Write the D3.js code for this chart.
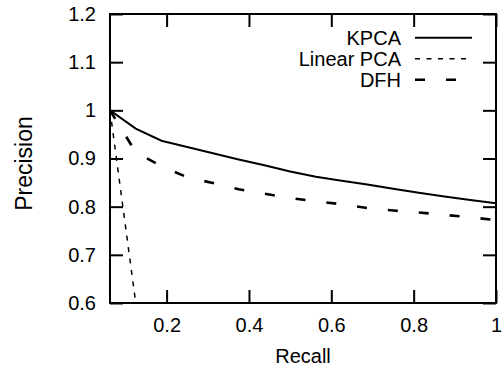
<!DOCTYPE html>
<html>
<head>
<meta charset="utf-8">
<script src="https://cdn.jsdelivr.net/npm/d3@7"></script>
<style>
  body { margin: 0; background: #fff; }
  svg { display: block; }
  text { font-family: 'Liberation Sans', Arial, Helvetica, sans-serif; fill: #000; }
</style>
</head>
<body>
<svg></svg>
<script>
// Chart data
var recall = [0.0625, 0.125, 0.1875, 0.25, 0.3125, 0.375, 0.4375, 0.5,
  0.5625, 0.625, 0.6875, 0.75, 0.8125, 0.875, 0.9375, 1.0];
var kpca = [1.0, 0.962, 0.937, 0.924, 0.911, 0.898, 0.886, 0.873,
  0.862, 0.854, 0.846, 0.837, 0.829, 0.821, 0.814, 0.807];
var dfh = [1.0, 0.913, 0.884, 0.861, 0.849, 0.836, 0.827, 0.818,
  0.811, 0.805, 0.797, 0.792, 0.788, 0.783, 0.778, 0.772];
var linearRecall = [0.0625, 0.125];
var linearPca = [1.0, 0.6];
var xTicks = [0.2, 0.4, 0.6, 0.8, 1];
var yTicks = [0.6, 0.7, 0.8, 0.9, 1, 1.1, 1.2];

var width = 502;
var height = 370;
var plotLeft = 110, plotRight = 496, plotTop = 14, plotBottom = 303;
var tickLen = 13;

var svg = d3.select('svg')
  .attr('width', width)
  .attr('height', height);

var x = d3.scaleLinear().domain([0.0625, 1]).range([plotLeft, plotRight]);
var y = d3.scaleLinear().domain([0.6, 1.2]).range([plotBottom, plotTop]);

var fmt = function (d) { return d3.format('')(d); };

// clip region for the curves
svg.append('clipPath')
  .attr('id', 'plot-clip')
  .append('rect')
    .attr('x', plotLeft)
    .attr('y', plotTop)
    .attr('width', plotRight - plotLeft)
    .attr('height', plotBottom - plotTop);

// Axes: bottom and left carry labels, top and right mirror the ticks
var xAxisB = d3.axisBottom(x).tickValues(xTicks).tickFormat(fmt)
  .tickSizeInner(-tickLen).tickSizeOuter(0).tickPadding(15);
var xAxisT = d3.axisTop(x).tickValues(xTicks).tickFormat('')
  .tickSizeInner(-tickLen).tickSizeOuter(0);
var yAxisL = d3.axisLeft(y).tickValues(yTicks).tickFormat(fmt)
  .tickSizeInner(-tickLen).tickSizeOuter(0).tickPadding(14);
var yAxisR = d3.axisRight(y).tickValues(yTicks).tickFormat('')
  .tickSizeInner(-tickLen).tickSizeOuter(0);

function styleAxis(g) {
  g.select('.domain').remove();
  g.selectAll('line').attr('stroke', '#000').attr('stroke-width', 2);
  g.selectAll('text')
    .style('font-family', "'Liberation Sans', Arial, Helvetica, sans-serif")
    .style('font-size', '20px')
    .attr('fill', '#000');
}

svg.append('g').attr('transform', 'translate(0,' + plotBottom + ')').call(xAxisB).call(styleAxis);
svg.append('g').attr('transform', 'translate(0,' + plotTop + ')').call(xAxisT).call(styleAxis);
svg.append('g').attr('transform', 'translate(' + plotLeft + ',0)').call(yAxisL).call(styleAxis);
svg.append('g').attr('transform', 'translate(' + plotRight + ',0)').call(yAxisR).call(styleAxis);

// frame
svg.append('rect')
  .attr('x', plotLeft)
  .attr('y', plotTop)
  .attr('width', plotRight - plotLeft)
  .attr('height', plotBottom - plotTop)
  .attr('fill', 'none')
  .attr('stroke', '#000')
  .attr('stroke-width', 2);

// axis titles
svg.append('text')
  .attr('x', (plotLeft + plotRight) / 2)
  .attr('y', 363)
  .attr('text-anchor', 'middle')
  .style('font-size', '20px')
  .text('Recall');

svg.append('text')
  .attr('text-anchor', 'middle')
  .attr('transform', 'translate(32,163.5)rotate(-90)')
  .style('font-size', '23px')
  .text('Precision');

// series
var series = [
  { name: 'KPCA', xs: recall, ys: kpca, dash: null, w: 2 },
  { name: 'Linear PCA', xs: linearRecall, ys: linearPca, dash: '5,6.5', w: 1.5 },
  { name: 'DFH', xs: recall, ys: dfh, dash: '10,21', w: 2.6 }
];

var line = d3.line()
  .x(function (d) { return x(d[0]); })
  .y(function (d) { return y(d[1]); });

var plot = svg.append('g').attr('clip-path', 'url(#plot-clip)');

series.forEach(function (s) {
  var pts = s.xs.map(function (v, i) { return [v, s.ys[i]]; });
  plot.append('path')
    .datum(pts)
    .attr('d', line)
    .attr('fill', 'none')
    .attr('stroke', '#000')
    .attr('stroke-width', s.w)
    .attr('stroke-dasharray', s.dash);
});

// legend
var legend = svg.append('g');
series.forEach(function (s, i) {
  var cy = 37.7 + i * 21;
  legend.append('text')
    .attr('x', 401)
    .attr('y', cy + 7)
    .attr('text-anchor', 'end')
    .style('font-size', '20px')
    .text(s.name);
  legend.append('line')
    .attr('x1', 415)
    .attr('x2', 472)
    .attr('y1', cy)
    .attr('y2', cy)
    .attr('stroke', '#000')
    .attr('stroke-width', s.w)
    .attr('stroke-dasharray', s.dash);
});
</script>
</body>
</html>
